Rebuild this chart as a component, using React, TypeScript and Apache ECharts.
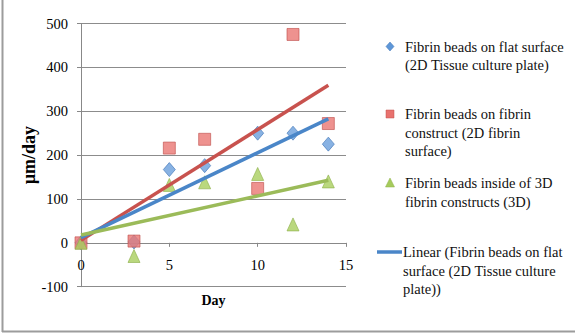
import React, { useEffect, useRef } from "react";
import * as echarts from "echarts";

const days = [0, 3, 5, 7, 10, 12, 14];
const flatSurface = [0, 2, 167, 176, 250, 250, 225];
const fibrinConstruct = [0, 4, 216, 236, 124, 475, 272];
const construct3D = [0, -30, 132, 138, 157, 42, 140];

const yTicks = { min: -100, max: 500, step: 100 };
const xTicks = { min: 0, max: 15, step: 5 };

const seriesNames = [
  "Fibrin beads on flat surface (2D Tissue culture plate)",
  "Fibrin beads on fibrin construct (2D fibrin surface)",
  "Fibrin beads inside of 3D fibrin constructs (3D)",
];
const legendLines = [
  ["Fibrin beads on flat surface", "(2D Tissue culture plate)"],
  ["Fibrin beads on fibrin", "construct (2D fibrin", "surface)"],
  ["Fibrin beads inside of 3D", "fibrin constructs (3D)"],
  ["Linear (Fibrin beads on flat", "surface (2D Tissue culture", "plate))"],
];

const BLUE = "#4A86C8";
const RED = "#C8524E";
const GREEN = "#9BBB59";
const FONT = "Liberation Serif";

function linearFit(xs: number[], ys: number[]) {
  const n = xs.length;
  const mx = xs.reduce((a, b) => a + b, 0) / n;
  const my = ys.reduce((a, b) => a + b, 0) / n;
  let sxy = 0;
  let sxx = 0;
  for (let i = 0; i < n; i++) {
    sxy += (xs[i] - mx) * (ys[i] - my);
    sxx += (xs[i] - mx) * (xs[i] - mx);
  }
  const slope = sxy / sxx;
  const intercept = my - slope * mx;
  const x0 = Math.min(...xs);
  const x1 = Math.max(...xs);
  return [
    [x0, intercept + slope * x0],
    [x1, intercept + slope * x1],
  ];
}

export default function App() {
  const ref = useRef<HTMLDivElement>(null);
  useEffect(() => {
    if (!ref.current) return;
    const chart = echarts.init(ref.current, null, { renderer: "svg" });
    const pts = (ys: number[]) => days.map((d, i) => [d, ys[i]]);

    const gridTop = 23.5;
    const gridBottom = 48.3;
    const plotH = 335 - gridTop - gridBottom;
    // x axis crosses at y = 0: shift it up from the bottom edge
    const zeroOffset = -(plotH * (0 - yTicks.min)) / (yTicks.max - yTicks.min);

    const legendX = 390;
    const textX = 405;
    const lh = 18.5;
    const starts = [46.5, 114, 183, 252];
    const graphic: any[] = [
      { type: "line", shape: { x1: 2.5, y1: 0, x2: 2.5, y2: 332 }, style: { stroke: "#9C9C9C", lineWidth: 2 } },
      { type: "line", shape: { x1: 2, y1: 331.5, x2: 575, y2: 331.5 }, style: { stroke: "#9C9C9C", lineWidth: 2 } },
      {
        type: "polygon",
        shape: { points: [[legendX, starts[0] - 4.5], [legendX + 4, starts[0]], [legendX, starts[0] + 4.5], [legendX - 4, starts[0]]] },
        style: { fill: "#5E97D8", stroke: "#3F74B5", lineWidth: 0.5 },
      },
      {
        type: "rect",
        shape: { x: legendX - 4, y: starts[1] - 4, width: 8, height: 8 },
        style: { fill: "#E8726E", stroke: "#C0504D", lineWidth: 0.5 },
      },
      {
        type: "polygon",
        shape: { points: [[legendX, starts[2] - 5], [legendX + 4.5, starts[2] + 4], [legendX - 4.5, starts[2] + 4]] },
        style: { fill: "#A6CB5C", stroke: "#8DB04A", lineWidth: 0.5 },
      },
      {
        type: "line",
        shape: { x1: 377, y1: starts[3], x2: 402, y2: starts[3] },
        style: { stroke: BLUE, lineWidth: 3.5 },
      },
    ];
    legendLines.forEach((lines, k) => {
      lines.forEach((t, j) => {
        graphic.push({
          type: "text",
          x: k === 3 ? 403 : textX,
          y: starts[k] + j * lh,
          style: {
            text: t,
            fontFamily: FONT,
            fontSize: 14.5,
            fill: "#111",
            verticalAlign: "middle",
            textVerticalAlign: "middle",
          },
        });
      });
    });

    chart.setOption({
      animation: false,
      grid: {
        left: 81,
        right: 229,
        top: gridTop,
        bottom: gridBottom,
        containLabel: false,
        outerBoundsMode: "none",
      },
      xAxis: {
        type: "value",
        min: xTicks.min,
        max: xTicks.max,
        interval: xTicks.step,
        name: "Day",
        nameLocation: "middle",
        nameGap: 51,
        nameTextStyle: { fontFamily: FONT, fontWeight: "bold", fontSize: 14, color: "#000" },
        offset: zeroOffset,
        axisLine: { onZero: false, lineStyle: { color: "#888", width: 1 } },
        axisTick: { show: true, length: 4, lineStyle: { color: "#888" } },
        axisLabel: { margin: 15, fontFamily: FONT, fontSize: 14.5, color: "#000" },
        splitLine: { show: false },
      },
      yAxis: {
        type: "value",
        min: yTicks.min,
        max: yTicks.max,
        interval: yTicks.step,
        name: "µm/day",
        nameLocation: "middle",
        nameRotate: 90,
        nameGap: 41,
        nameTextStyle: { fontFamily: FONT, fontWeight: "bold", fontSize: 18, color: "#000" },
        axisLine: { show: true, onZero: false, lineStyle: { color: "#888", width: 1 } },
        axisTick: { show: true, length: 4, lineStyle: { color: "#888" } },
        axisLabel: { margin: 13, fontFamily: FONT, fontSize: 14.5, color: "#000" },
        splitLine: { show: true, lineStyle: { color: "#8C8C8C", width: 1 } },
      },
      series: [
        {
          name: seriesNames[0],
          type: "scatter",
          symbol: "diamond",
          symbolSize: [12, 14],
          itemStyle: { color: "#6A9FDC", borderColor: "#3F74B5", borderWidth: 0.8 },
          data: pts(flatSurface),
          z: 2,
        },
        {
          name: seriesNames[1],
          type: "scatter",
          symbol: "rect",
          symbolSize: 12,
          itemStyle: { color: "#EA7773", borderColor: "#C0504D", borderWidth: 0.8 },
          data: pts(fibrinConstruct),
          z: 3,
        },
        {
          name: seriesNames[2],
          type: "scatter",
          symbol: "triangle",
          symbolSize: [12, 13],
          itemStyle: { color: "#A9CE5E", borderColor: "#8DB04A", borderWidth: 0.8 },
          data: pts(construct3D),
          z: 4,
        },
        {
          name: "Linear (" + seriesNames[1] + ")",
          type: "line",
          symbol: "none",
          lineStyle: { color: RED, width: 3.5 },
          data: linearFit(days, fibrinConstruct),
          z: 5,
        },
        {
          name: "Linear (" + seriesNames[0] + ")",
          type: "line",
          symbol: "none",
          lineStyle: { color: BLUE, width: 3.5 },
          data: linearFit(days, flatSurface),
          z: 5,
        },
        {
          name: "Linear (" + seriesNames[2] + ")",
          type: "line",
          symbol: "none",
          lineStyle: { color: GREEN, width: 3.5 },
          data: linearFit(days, construct3D),
          z: 5,
        },
      ],
      graphic,
    });
    return () => chart.dispose();
  }, []);
  return (
    <div
      ref={ref}
      style={{ width: 575, height: 335, position: "fixed", left: 0, top: 0, background: "#fff" }}
    />
  );
}
